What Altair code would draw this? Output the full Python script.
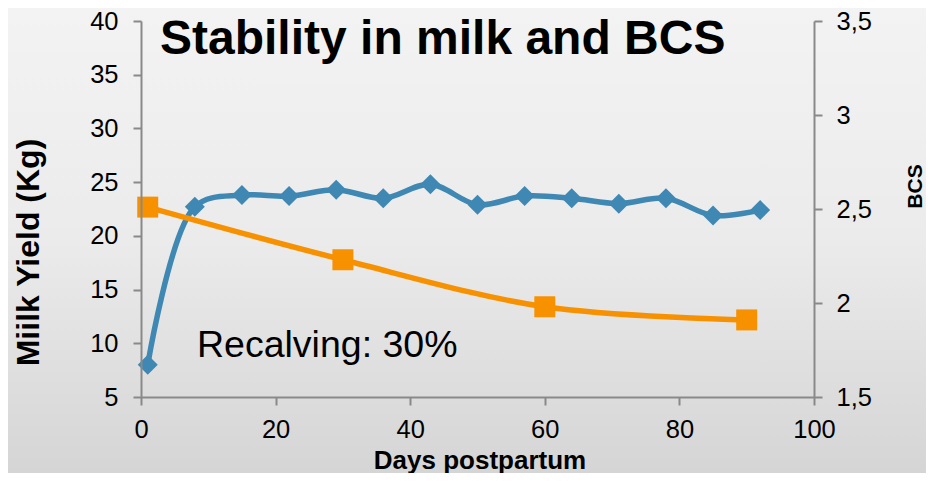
import altair as alt
import pandas as pd

# ---- data ----
days_milk = [1, 8, 15, 22, 29, 36, 43, 50, 57, 64, 71, 78, 85, 92]
milk_yield = [8.0, 22.7, 23.8, 23.7, 24.3, 23.5, 24.8, 22.9, 23.7, 23.5, 23.0, 23.5, 21.9, 22.4]
days_bcs = [1, 30, 60, 90]
bcs = [2.51, 2.23, 1.98, 1.91]

x_ticks = [0, 20, 40, 60, 80, 100]
milk_ticks = [5, 10, 15, 20, 25, 30, 35, 40]
bcs_ticks = [1.5, 2.0, 2.5, 3.0, 3.5]

title_text = "Stability in milk and BCS"
note_text = "Recalving: 30%"

FONT = "Liberation Sans"
BLUE = "#3f88b4"
ORANGE = "#f79100"
AXIS_GRAY = "#898989"

W, H = 673, 376
PAD = {"left": 133, "top": 13, "right": 112, "bottom": 76}

milk_df = pd.DataFrame({"day": days_milk, "milk": milk_yield})
bcs_df = pd.DataFrame({"day": days_bcs, "bcs": bcs})
one = pd.DataFrame({"k": [0]})

x_enc = alt.X(
    "day:Q",
    scale=alt.Scale(domain=[0, 100], nice=False, zero=False),
    axis=alt.Axis(
        values=x_ticks, title="Days postpartum", grid=False, zindex=1, labelFlush=False,
        domainColor=AXIS_GRAY, domainWidth=2, tickColor=AXIS_GRAY, tickWidth=2, tickSize=8,
        labelFont=FONT, labelFontSize=25.5, labelColor="#000000", labelPadding=12,
        titleFont=FONT, titleFontSize=26, titleFontWeight="bold", titleColor="#000000",
        titleBaseline="alphabetic", titleY=71, titleX=W / 2 + 2,
    ),
)

bg = alt.Chart(one).mark_rect(
    color=alt.Gradient(
        gradient="linear", x1=0, y1=0, x2=0, y2=1,
        stops=[
            alt.GradientStop(offset=0, color="#f3f3f3"),
            alt.GradientStop(offset=0.5, color="#ebebeb"),
            alt.GradientStop(offset=1, color="#d5d5d5"),
        ],
    )
).encode(
    x=alt.value(-PAD["left"]), x2=alt.value(W + PAD["right"]),
    y=alt.value(-PAD["top"]), y2=alt.value(H + PAD["bottom"]),
)

milk_layer = alt.Chart(milk_df).mark_line(
    color=BLUE, strokeWidth=5.5, interpolate="catmull-rom",
    point=alt.OverlayMarkDef(shape="diamond", size=400, filled=True, color=BLUE, opacity=1),
).encode(
    x=x_enc,
    y=alt.Y(
        "milk:Q",
        scale=alt.Scale(domain=[5, 40], nice=False, zero=False),
        axis=alt.Axis(
            orient="left", values=milk_ticks, title="Miilk Yield (Kg)", grid=False, zindex=1,
            labelFlush=False,
            domainColor=AXIS_GRAY, domainWidth=2, tickColor=AXIS_GRAY, tickWidth=2, tickSize=8,
            labelFont=FONT, labelFontSize=25.5, labelColor="#000000", labelPadding=15,
            titleFont=FONT, titleFontSize=32, titleFontWeight="bold", titleColor="#000000",
            titleAngle=270, titleAlign="center", titleBaseline="middle",
            titleX=-113, titleY=231,
        ),
    ),
)

bcs_layer = alt.Chart(bcs_df).mark_line(
    color=ORANGE, strokeWidth=5.5, interpolate="catmull-rom",
    point=alt.OverlayMarkDef(shape="square", size=440, filled=True, color=ORANGE, opacity=1),
).encode(
    x=x_enc,
    y=alt.Y(
        "bcs:Q",
        scale=alt.Scale(domain=[1.5, 3.5], nice=False, zero=False),
        axis=alt.Axis(
            orient="right", values=bcs_ticks, title="BCS", grid=False, zindex=1,
            labelFlush=False,
            labelExpr="replace(format(datum.value, '.1~f'), '.', ',')",
            domainColor=AXIS_GRAY, domainWidth=2, tickColor=AXIS_GRAY, tickWidth=2, tickSize=8,
            labelFont=FONT, labelFontSize=25.5, labelColor="#000000", labelPadding=14,
            titleFont=FONT, titleFontSize=21, titleFontWeight="bold", titleColor="#000000",
            titleAngle=270, titleAlign="center", titleBaseline="middle",
            titleX=101, titleY=165,
        ),
    ),
)

title_mark = alt.Chart(one).mark_text(
    font=FONT, fontSize=48, fontWeight="bold", color="#000000",
    align="left", baseline="alphabetic",
).encode(x=alt.value(19), y=alt.value(33), text=alt.value(title_text))

note_mark = alt.Chart(one).mark_text(
    font=FONT, fontSize=37.5, color="#000000",
    align="left", baseline="alphabetic",
).encode(x=alt.value(56), y=alt.value(336), text=alt.value(note_text))

chart = alt.layer(bg, milk_layer, bcs_layer, title_mark, note_mark).resolve_scale(
    y="independent"
).properties(
    width=W, height=H, padding=PAD,
    autosize=alt.AutoSizeParams(type="none"),
    background="#e8e8e8",
).configure_view(stroke=None)

chart.save("out.html", embed_options={"renderer": "svg", "actions": False})
